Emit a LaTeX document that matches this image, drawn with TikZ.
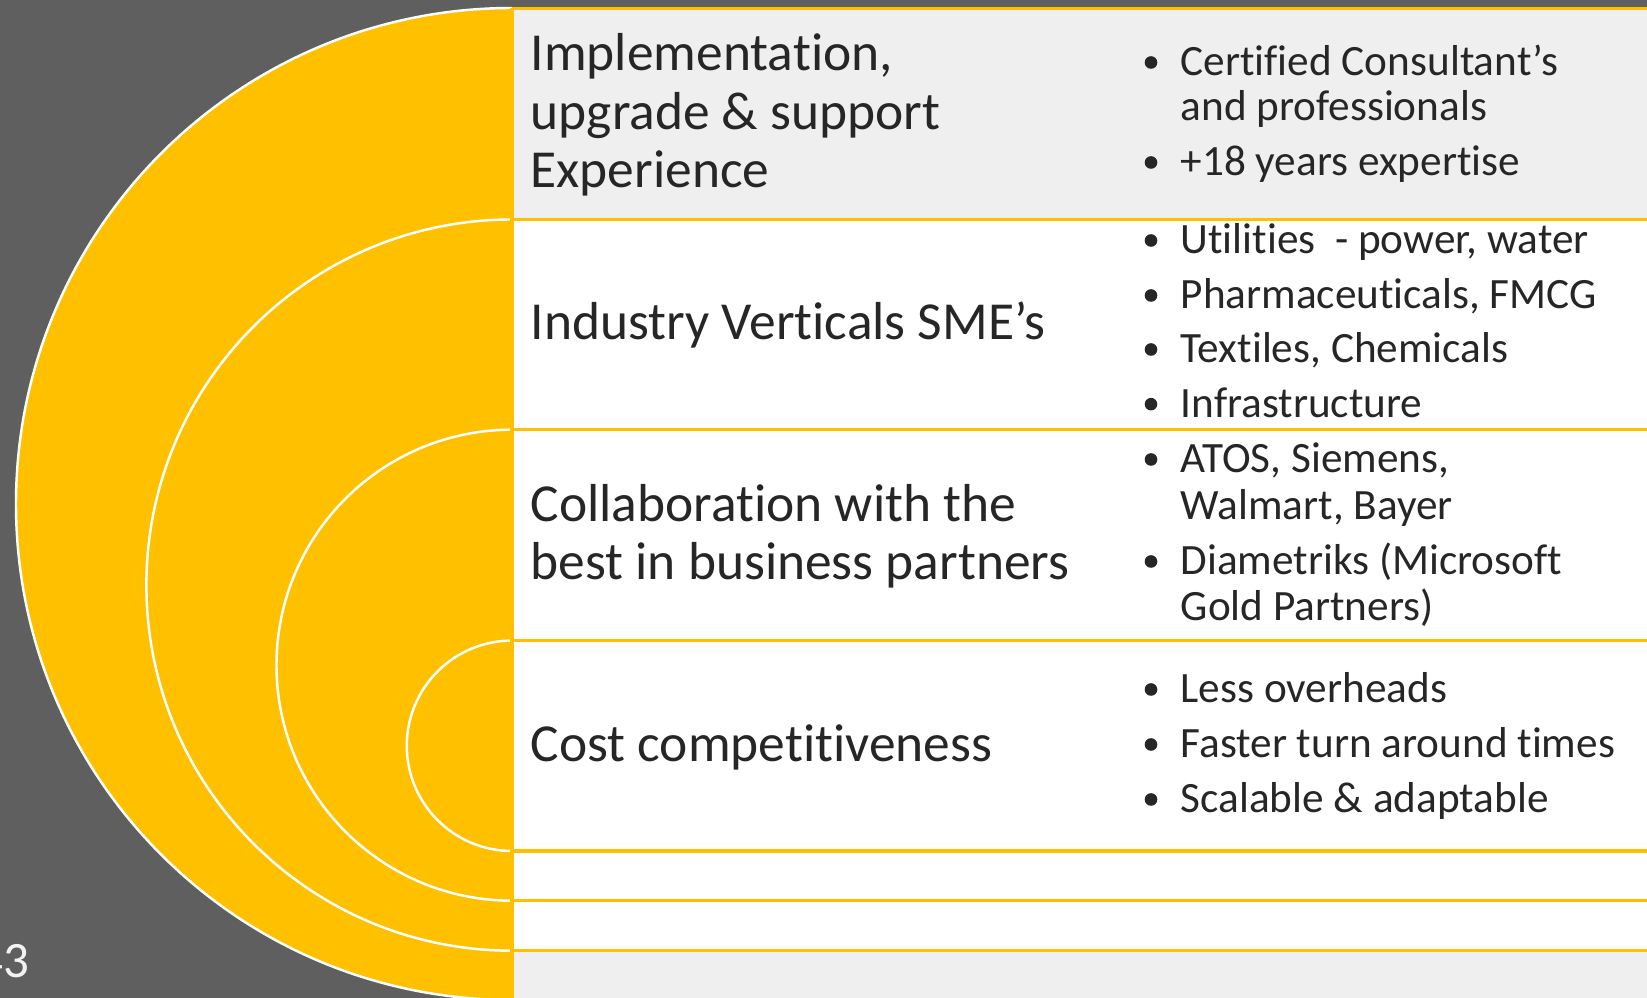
\documentclass[tikz,border=0pt]{standalone}
\usepackage{fontspec}
\setmainfont[Ligatures={NoCommon}]{Carlito}
\definecolor{darkbg}{HTML}{5F5F5F}
\definecolor{gold}{HTML}{FFC000}
\definecolor{rowgray}{HTML}{EFEFEF}
\definecolor{txt}{HTML}{262626}
\begin{document}
\begin{tikzpicture}[x=0.01cm,y=-0.01cm,
  lefttxt/.style={anchor=base west,inner sep=0pt,text=txt,font=\fontsize{15.2pt}{18pt}\selectfont},
  righttxt/.style={anchor=base west,inner sep=0pt,text=txt,font=\fontsize{12.3pt}{15pt}\selectfont},
  rowline/.style={draw=gold,line width=0.9pt},
  ring/.style={fill=gold,draw=white,line width=0.7pt},
  bul/.style={fill=txt}]
\useasboundingbox (0,0) rectangle (1647,998);
\fill[darkbg] (0,0) rectangle (1647,998);
% rings
\begin{scope}
\clip (0,0) rectangle (512,998);
\path[ring] (512,504) circle (496);
\path[ring] (512,585.1) circle (365.6);
\path[ring] (512,665.2) circle (235.5);
\path[ring] (512,745.8) circle (105.2);
\end{scope}
% table rows
\fill[rowgray] (512,8.5) rectangle (1647,219.5);
\fill[white] (512,219.5) rectangle (1647,950.7);
\fill[rowgray] (512,950.7) rectangle (1647,998);
\foreach \yy in {8.5,219.5,429.6,640.7,851,900.7,950.7}
  \draw[rowline] (512,\yy) -- (1647,\yy);
\draw[rowline] (512,8.5) -- (512,998);
% left column
\node[lefttxt] (l1a) at (530,71) {Implementation,};
\node[lefttxt] (l1b) at (530,129.5) {upgrade \& support};
\node[lefttxt] (l1c) at (530,188) {Experience};
\node[lefttxt] (l2a) at (530,340) {Industry Verticals SME’s};
\node[lefttxt] (l3a) at (530,521.7) {Collaboration with the};
\node[lefttxt] (l3b) at (530,580) {best in business partners};
\node[lefttxt] (l4a) at (530,761.7) {Cost competitiveness};
% right column
\foreach \yy in {76,176,254,309,363,417.7,473,575,703,758,813}
  \fill[bul] (1151,\yy-13.5) circle (6.3);
\node[righttxt] (r1a) at (1180,76) {Certified Consultant’s};
\node[righttxt] (r1b) at (1180,120.7) {and professionals};
\node[righttxt] (r1c) at (1180,176) {+18 years expertise};
\node[righttxt] (r2a) at (1180,254) {Utilities\ \ - power, water};
\node[righttxt] (r2b) at (1180,309) {Pharmaceuticals, FMCG};
\node[righttxt] (r2c) at (1180,363) {Textiles, Chemicals};
\node[righttxt] (r2d) at (1180,417.7) {Infrastructure};
\node[righttxt] (r3a) at (1180,473) {ATOS, Siemens,};
\node[righttxt] (r3b) at (1180,520) {Walmart, Bayer};
\node[righttxt] (r3c) at (1180,575) {Diametriks (Microsoft};
\node[righttxt] (r3d) at (1180,620.7) {Gold Partners)};
\node[righttxt] (r4a) at (1180,703) {Less overheads};
\node[righttxt] (r4b) at (1180,758) {Faster turn around times};
\node[righttxt] (r4c) at (1180,813) {Scalable \& adaptable};
% page number
\begin{scope}
\clip (0,0) rectangle (1647,998);
\node[anchor=base east,inner sep=0pt,text=white!95!black,font=\fontsize{14.5pt}{16pt}\selectfont] (pg) at (30,978) {43};
\end{scope}
\end{tikzpicture}
\end{document}
